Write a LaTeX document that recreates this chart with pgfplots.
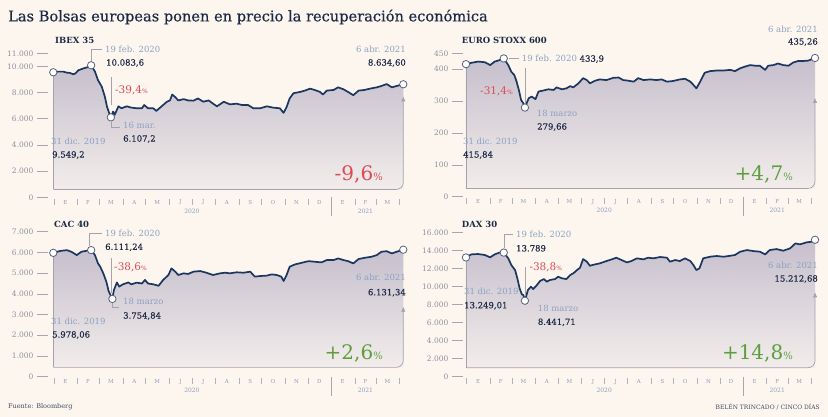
\documentclass[border=0pt]{standalone}
\usepackage{fontspec}
\setmainfont{DejaVu Serif}
\newfontfamily\valfont[FakeBold=0.35]{DejaVu Serif}
\newfontfamily\titfont[FakeBold=0.5]{DejaVu Serif}
\usepackage{pgfplots}
\usepackage{pgfplotstable}
\pgfplotsset{compat=1.18}
\usetikzlibrary{arrows.meta}

\definecolor{bg}{HTML}{FCF6EF}
\definecolor{navy}{HTML}{1B365F}
\definecolor{dark}{HTML}{1E2A45}
\definecolor{lblue}{HTML}{8CA1C2}
\definecolor{tickgray}{HTML}{8E909C}
\definecolor{red1}{HTML}{DC4A55}
\definecolor{green1}{HTML}{5E9E3E}
\definecolor{filltop}{HTML}{C6BFCD}
\definecolor{fillbot}{HTML}{F2EDEB}
\definecolor{arrowgray}{HTML}{A3A2AE}
\definecolor{markgray}{HTML}{56627A}

\pgfplotstableread{
d v
0 9549.2
6 9600
13 9600
18 9520
22 9500
26 9400
29 9450
33 9700
40 9850
46 9950
50 10083.6
55 9600
59 8950
64 8450
68 7700
71 6900
74 6400
76 6107.2
79 6550
81 6300
86 6950
90 6800
97 6950
103 6850
110 6800
117 6800
120 7050
125 6800
132 6800
136 6600
141 6850
145 7050
150 7300
154 7400
157 7850
161 7650
165 7400
172 7500
178 7400
185 7380
191 7550
198 7300
205 7400
211 7150
216 6950
220 7100
225 7300
233 7100
242 7150
249 7050
257 7050
264 6800
273 6800
282 6950
290 6850
299 6800
304 6450
308 6900
312 7550
317 7950
326 8050
332 8150
339 8300
345 8200
352 8050
356 7850
361 8150
370 8200
376 8400
383 8250
389 8050
396 7800
403 8150
411 8200
418 8300
427 8400
433 8500
440 8650
447 8400
453 8500
462 8634.6
}\ibex

\pgfplotstableread{
d v
0 415.84
7 420
16 424
25 422
32 413
38 424
45 429
50 433.9
56 413
60 392
64 382
67 361
70 335
73 303
76 293
78 279.66
83 309
87 314
92 306
96 330
102 333
109 337
116 335
120 343
127 337
133 340
138 347
142 343
149 356
155 372
160 366
164 356
171 364
177 368
186 366
195 373
202 374
208 366
215 364
222 361
228 372
235 366
244 368
252 366
259 368
266 361
274 363
283 368
290 370
297 361
301 351
305 340
310 361
316 389
323 394
332 396
341 396
350 398
356 394
363 403
369 408
376 413
383 411
389 411
396 398
400 411
407 413
413 418
420 413
427 411
433 421
440 426
447 426
453 427
462 435.26
}\stoxx

\pgfplotstableread{
d v
0 5978.06
9 6070
18 6110
24 6030
31 5870
37 6030
44 6080
50 6111.24
55 5870
59 5470
62 5310
66 4990
70 4590
73 4140
75 3980
78 3754.84
80 4180
84 4550
87 4350
92 4460
99 4550
103 4460
110 4540
117 4500
121 4670
125 4500
132 4460
139 4390
145 4670
152 4910
156 5230
161 5070
165 4910
172 4990
178 4960
185 5070
194 5100
202 5020
211 4910
220 4990
227 5020
233 4990
242 5040
251 5020
260 5070
266 4830
273 4860
282 4880
288 4940
295 4910
301 4830
304 4620
308 4910
312 5310
319 5420
328 5500
337 5580
345 5550
354 5520
361 5630
370 5630
376 5710
383 5630
389 5580
396 5470
403 5680
411 5740
420 5790
427 5870
433 6030
440 6060
447 5950
453 6030
462 6131.34
}\cac

\pgfplotstableread{
d v
0 13249.01
7 13590
16 13630
25 13520
32 13260
38 13590
45 13810
50 13789
56 13150
60 12410
65 11850
68 10930
71 9810
74 9150
76 9070
78 8441.71
82 9630
86 10000
89 9740
94 10190
98 10630
103 10850
107 10560
111 10740
118 10850
122 11110
127 10930
133 10850
138 11300
142 11480
147 11850
151 12110
155 13070
160 12780
164 12330
171 12480
177 12590
186 12850
193 13040
199 13220
206 12960
213 12700
219 12850
226 13150
235 13040
241 13220
248 13150
257 13300
266 13220
270 12780
277 12960
283 12850
290 13150
297 12850
301 12410
305 11850
309 12030
314 13150
323 13330
332 13410
341 13330
350 13440
356 13520
363 13890
372 14070
380 13960
389 13890
396 13590
402 14070
411 14180
420 14000
429 14260
436 14810
442 14700
451 14930
458 15000
462 15212.68
}\dax

\pgfplotsset{
  panel/.style={
    scale only axis, clip=false, anchor=south west,
    axis x line=none, axis y line*=left,
    y axis line style={draw=none},
    scaled y ticks=false,
    tick align=inside, major tick length=10.5pt,
    ytick style={draw=tickgray!80, line width=0.6pt},
    yticklabel style={font=\fontsize{7.5}{8}\selectfont, text=tickgray},
    xtick=\empty, ymin=0,
  },
}

\newcommand{\monthdecor}{%
  \pgfplotsinvokeforeach{1,32,61,92,122,153,183,214,245,275,306,336,398,426,457}{%
    \draw[tickgray!70, line width=0.5pt] ([yshift=-1.5pt]axis cs:##1,0) -- ([yshift=-7.5pt]axis cs:##1,0);}
  \draw[tickgray!80, line width=0.6pt] (axis cs:367,0) -- ([yshift=-19pt]axis cs:367,0);
  \tikzset{mlab/.style={font=\fontsize{5.5}{6}\selectfont, text=lblue!90!gray, inner sep=0pt, yshift=-5.2pt}}
  \node[mlab] at (axis cs:16,0) {E};
  \node[mlab] at (axis cs:46,0) {F};
  \node[mlab] at (axis cs:76,0) {M};
  \node[mlab] at (axis cs:107,0) {A};
  \node[mlab] at (axis cs:137,0) {M};
  \node[mlab] at (axis cs:168,0) {J};
  \node[mlab] at (axis cs:198,0) {J};
  \node[mlab] at (axis cs:229,0) {A};
  \node[mlab] at (axis cs:260,0) {S};
  \node[mlab] at (axis cs:290,0) {O};
  \node[mlab] at (axis cs:321,0) {N};
  \node[mlab] at (axis cs:351,0) {D};
  \node[mlab] at (axis cs:382,0) {E};
  \node[mlab] at (axis cs:412,0) {F};
  \node[mlab] at (axis cs:441,0) {M};
  \node[mlab, yshift=-8.5pt, font=\fontsize{6}{6}\selectfont] at (axis cs:183,0) {2020};
  \node[mlab, yshift=-8.5pt, font=\fontsize{6}{6}\selectfont] at (axis cs:412,0) {2021};
}

\tikzset{
  areafill/.style={draw=none, top color=filltop, bottom color=fillbot},
  curve/.style={navy, line width=1.7pt, line join=round},
  keym/.style={only marks, mark=*, mark size=3.7pt, mark options={fill=white, draw=markgray, line width=0.8pt}},
  brk/.style={arrowgray, line width=0.7pt},
  brka/.style={arrowgray, line width=0.7pt, rounded corners=7pt, -{Latex[length=5pt,width=4.5pt]}},
  lb/.style={font=\fontsize{8.5}{9}\selectfont, text=lblue, inner sep=0pt},
  vl/.style={font=\valfont\fontsize{8.5}{9}\selectfont, text=dark, inner sep=0pt},
  ttl/.style={font=\bfseries\fontsize{8.5}{9}\selectfont, text=dark, inner sep=0pt},
  pr/.style={text=red1, inner sep=0pt},
  big/.style={inner sep=0pt},
  conn/.style={arrowgray, line width=0.6pt},
}
\newcommand{\spct}{{\fontsize{6}{6}\selectfont\%}}
\newcommand{\bpct}{{\fontsize{10}{10}\selectfont\%}}

\begin{document}
\begin{tikzpicture}[x=1pt,y=1pt]
\useasboundingbox (0pt,0pt) rectangle (828pt,417pt);
\fill[bg] (0pt,0pt) rectangle (828pt,417pt);

\node[anchor=west, inner sep=0pt, text=dark, font=\titfont\fontsize{14.6}{16}\selectfont] at (8pt,400pt) {Las Bolsas europeas ponen en precio la recuperación económica};

% ---------------- IBEX 35
\begin{axis}[panel, at={(37pt,219.7pt)}, width=366.3pt, height=144pt,
  xmin=-21.5, xmax=462, ymax=11000,
  ytick={0,2000,4000,6000,8000,10000,11000},
  yticklabels={0,2.000,4.000,6.000,8.000,10.000,11.000}]
\addplot[areafill] table[x=d,y=v] {\ibex} -- (axis cs:462,600) -- (axis cs:0,600) -- cycle;
\draw[brk] (axis cs:0,9549.2) -- (axis cs:0,600);
\draw[brka] (axis cs:0,600) -- (axis cs:462,600) -- (axis cs:462,7700);
\addplot[curve] table[x=d,y=v] {\ibex};
\addplot[keym] coordinates {(0,9549.2) (50,10083.6) (76,6107.2) (462,8634.6)};
\monthdecor
\end{axis}

% ---------------- EURO STOXX 600
\begin{axis}[panel, at={(452pt,220.3pt)}, width=363pt, height=143.4pt,
  xmin=-18.5, xmax=462, ymax=450,
  ytick={0,100,200,300,400,450},
  yticklabels={0,100,200,300,400,450}]
\addplot[areafill] table[x=d,y=v] {\stoxx} -- (axis cs:462,26) -- (axis cs:0,26) -- cycle;
\draw[brk] (axis cs:0,415.84) -- (axis cs:0,26);
\draw[brka] (axis cs:0,26) -- (axis cs:462,26) -- (axis cs:462,310);
\addplot[curve] table[x=d,y=v] {\stoxx};
\addplot[keym] coordinates {(0,415.84) (50,433.9) (78,279.66) (462,435.26)};
\monthdecor
\end{axis}

% ---------------- CAC 40
\begin{axis}[panel, at={(37pt,40.3pt)}, width=366.3pt, height=145pt,
  xmin=-21.5, xmax=462, ymax=7000,
  ytick={0,1000,2000,3000,4000,5000,6000,7000},
  yticklabels={0,1.000,2.000,3.000,4.000,5.000,6.000,7.000}]
\addplot[areafill] table[x=d,y=v] {\cac} -- (axis cs:462,450) -- (axis cs:0,450) -- cycle;
\draw[brk] (axis cs:0,5978.06) -- (axis cs:0,450);
\draw[brka] (axis cs:0,450) -- (axis cs:462,450) -- (axis cs:462,3380);
\addplot[curve] table[x=d,y=v] {\cac};
\addplot[keym] coordinates {(0,5978.06) (50,6111.24) (78,3754.84) (462,6131.34)};
\monthdecor
\end{axis}

% ---------------- DAX 30
\begin{axis}[panel, at={(452pt,40.3pt)}, width=363pt, height=144pt,
  xmin=-18.5, xmax=462, ymax=16000,
  ytick={0,2000,4000,6000,8000,10000,12000,14000,16000},
  yticklabels={0,2.000,4.000,6.000,8.000,10.000,12.000,14.000,16.000}]
\addplot[areafill] table[x=d,y=v] {\dax} -- (axis cs:462,1000) -- (axis cs:0,1000) -- cycle;
\draw[brk] (axis cs:0,13249.01) -- (axis cs:0,1000);
\draw[brka] (axis cs:0,1000) -- (axis cs:462,1000) -- (axis cs:462,9380);
\addplot[curve] table[x=d,y=v] {\dax};
\addplot[keym] coordinates {(0,13249.01) (50,13789) (78,8441.71) (462,15212.68)};
\monthdecor
\end{axis}

% ===== annotations IBEX
\node[ttl, anchor=west] at (55pt,377pt) {IBEX 35};
\draw[conn] (91.2pt,356pt) -- (91.2pt,367.7pt) -- (102pt,367.7pt);
\node[lb, anchor=west] at (105pt,367.7pt) {19 feb. 2020};
\node[vl, anchor=west] at (106pt,354pt) {10.083,6};
\draw[conn] (111.7pt,340.3pt) -- (111.7pt,312pt);
\node[pr, anchor=west] at (115pt,327pt) {{\fontsize{10.5}{11}\selectfont -39,4}\spct};
\draw[conn] (110.9pt,295pt) -- (110.9pt,290pt) -- (120pt,290pt);
\node[lb, anchor=west] at (123pt,292pt) {16 mar.};
\node[vl, anchor=west] at (123pt,278pt) {6.107,2};
\node[lb, anchor=west] at (51pt,276pt) {31 dic. 2019};
\node[vl, anchor=west] at (52pt,262pt) {9.549,2};
\node[lb, anchor=east] at (406pt,368pt) {6 abr. 2021};
\node[vl, anchor=east] at (406pt,354pt) {8.634,60};
\node[big, anchor=east, text=red1] at (383pt,243pt) {{\fontsize{20}{20}\selectfont -9,6}\bpct};

% ===== annotations EURO STOXX
\node[ttl, anchor=west] at (461.7pt,377pt) {EURO STOXX 600};
\node[lb, anchor=east] at (818pt,388pt) {6 abr. 2021};
\node[vl, anchor=east] at (818pt,375pt) {435,26};
\draw[conn] (509pt,358.3pt) -- (519pt,358.3pt);
\node[lb, anchor=west] at (521.7pt,358pt) {19 feb. 2020 {\valfont\color{dark}433,9}};
\draw[conn] (525.7pt,348.7pt) -- (525.7pt,314pt);
\node[pr, anchor=west] at (480pt,326pt) {{\fontsize{10.5}{11}\selectfont -31,4}\spct};
\node[lb, anchor=west] at (536.7pt,304pt) {18 marzo};
\node[vl, anchor=west] at (537pt,290pt) {279,66};
\node[lb, anchor=west] at (463pt,276pt) {31 dic. 2019};
\node[vl, anchor=west] at (463pt,262pt) {415,84};
\node[big, anchor=east, text=green1] at (793pt,243pt) {{\fontsize{20}{20}\selectfont +4,7}\bpct};

% ===== annotations CAC 40
\node[ttl, anchor=west] at (54pt,193pt) {CAC 40};
\draw[conn] (89.3pt,171pt) -- (89.3pt,183.7pt) -- (102pt,183.7pt);
\node[lb, anchor=west] at (105pt,183.7pt) {19 feb. 2020};
\node[vl, anchor=west] at (105pt,169.7pt) {6.111,24};
\draw[conn] (111pt,158.7pt) -- (111pt,124pt);
\node[pr, anchor=west] at (114pt,149.7pt) {{\fontsize{10.5}{11}\selectfont -38,6}\spct};
\draw[conn] (112.4pt,113.5pt) -- (112.4pt,110pt) -- (119pt,110pt);
\node[lb, anchor=west] at (123pt,115.3pt) {18 marzo};
\node[vl, anchor=west] at (123pt,101pt) {3.754,84};
\node[lb, anchor=west] at (51pt,96pt) {31 dic. 2019};
\node[vl, anchor=west] at (52pt,82pt) {5.978,06};
\node[lb, anchor=east] at (406pt,139.3pt) {6 abr. 2021};
\node[vl, anchor=east] at (406pt,124.3pt) {6.131,34};
\node[big, anchor=east, text=green1] at (383pt,63.7pt) {{\fontsize{20}{20}\selectfont +2,6}\bpct};

% ===== annotations DAX 30
\node[ttl, anchor=west] at (461.7pt,193pt) {DAX 30};
\draw[conn] (503.8pt,168.5pt) -- (503.8pt,182.7pt) -- (513pt,182.7pt);
\node[lb, anchor=west] at (516pt,182.7pt) {19 feb. 2020};
\node[vl, anchor=west] at (516pt,168.7pt) {13.789};
\draw[conn] (525pt,150.3pt) -- (525pt,121pt);
\node[pr, anchor=west] at (529.3pt,149.7pt) {{\fontsize{10.5}{11}\selectfont -38,8}\spct};
\node[lb, anchor=west] at (537.7pt,108.7pt) {18 marzo};
\node[vl, anchor=west] at (537.7pt,94.7pt) {8.441,71};
\node[lb, anchor=west] at (464pt,126pt) {31 dic. 2019};
\node[vl, anchor=west] at (464pt,111.3pt) {13.249,01};
\node[lb, anchor=east] at (818pt,152pt) {6 abr. 2021};
\node[vl, anchor=east] at (818pt,138pt) {15.212,68};
\node[big, anchor=east, text=green1] at (793pt,63.7pt) {{\fontsize{20}{20}\selectfont +14,8}\bpct};

% ===== footer
\node[anchor=west, inner sep=0pt, text=dark!85, font=\fontsize{6.5}{7}\selectfont] at (8pt,10.3pt) {Fuente: Bloomberg};
\node[anchor=east, inner sep=0pt, text=dark!85, font=\fontsize{6}{7}\selectfont] at (820pt,10.3pt) {BELÉN TRINCADO / CINCO DÍAS};
\end{tikzpicture}
\end{document}
